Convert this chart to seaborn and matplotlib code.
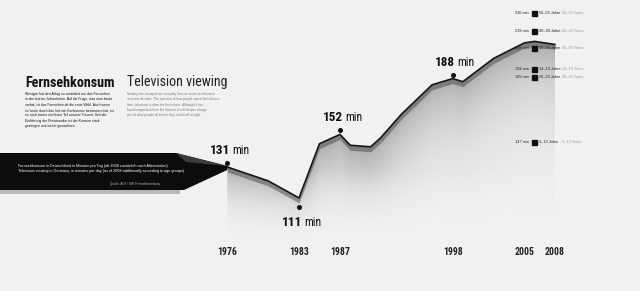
import numpy as np
import pandas as pd
import matplotlib
matplotlib.use("Agg")
import matplotlib.pyplot as plt
import matplotlib.transforms as mtransforms
from matplotlib import font_manager as fm
from matplotlib.patches import Polygon, Rectangle
import seaborn as sns

# ---------------- data ----------------
years = [1976, 1980, 1983, 1985, 1987, 1988, 1990, 1991, 1993, 1996, 1998, 1999, 2002, 2005, 2006, 2008]
minutes = [131, 122, 111, 146, 152, 145, 144, 150, 165, 184, 188, 186, 201, 211, 212, 210]

tick_years = [1976, 1983, 1987, 1998, 2005, 2008]
highlight_years = [1976, 1983, 1987, 1998]
highlight_values = [131, 111, 152, 188]
highlight_side = ["above", "below", "above", "above"]

age_values = [230, 219, 208, 194, 189, 147]
age_de = ["50–59 Jahre", "40–49 Jahre", "30–39 Jahre", "14–19 Jahre", "20–29 Jahre", "3–13 Jahre"]
age_en = ["50–59 Years", "40–49 Years", "30–39 Years", "14–19 Years", "20–29 Years", "3–13 Years"]

title_de = "Fernsehkonsum"
title_en = "Television viewing"
body_de = ("Wenigen hat den Alltag so verändert wie das Fernsehen\n"
           "in den letzten Jahrzehnten. Auf die Frage, was man heute\n"
           "vorhat, ist das Fernsehen oft die erste Wahl. Auch wenn\n"
           "es heute durch das Internet Konkurrenz bekommen hat, ist\n"
           "es noch immer ein fester Teil unserer Freizeit. Seit der\n"
           "Einführung der Privatsender ist der Konsum stark\n"
           "gestiegen und weiter gewachsen.")
body_en = ("Nothing has changed our everyday lives as much as television\n"
           "in recent decades. The question of how people spend their leisure\n"
           "time, television is often the first choice. Although it has\n"
           "faced competition from the Internet, it still shapes a large\n"
           "part of what people do before they switch off at night.")
band_de = "Fernsehkonsum in Deutschland in Minuten pro Tag (ab 2008 zusätzlich nach Altersstufen)"
band_en = "Television viewing in Germany, in minutes per day (as of 2008 additionally according to age groups)"
source = "Quelle: AGF / GfK Fernsehforschung"

df = pd.DataFrame({"year": years, "minutes": minutes})


def pick(cands):
    for c in cands:
        try:
            fm.findfont(fm.FontProperties(family=c), fallback_to_default=False)
            return c
        except Exception:
            pass
    return "DejaVu Sans"


# ---------------- style ----------------
sns.set_theme(style="white")
NARROW = pick(["Liberation Sans Narrow", "DejaVu Sans Condensed", "Roboto Condensed", "Roboto"])
plt.rcParams["font.family"] = ["Liberation Sans", "DejaVu Sans"]

W, H = 640, 291
BG = "#f1f1f1"
fig = plt.figure(figsize=(6.4, 2.91), dpi=100, facecolor=BG)
ax = fig.add_axes([0, 51 / H, 1, 240 / H])
ax.set_facecolor(BG)
X0, X1, Y0, Y1 = 1953.8, 2016.3, 83.9, 238.7
ax.set_xlim(X0, X1)
ax.set_ylim(Y0, Y1)
renderer = fig.canvas.get_renderer()


def fit_width(t, target_px):
    w = t.get_window_extent(renderer).width
    if w > 0:
        t.set_fontsize(t.get_fontsize() * target_px / w)


x = np.array(years, dtype=float)
y = np.array(minutes, dtype=float)

# soft shaded "wall" under the ribbon: gradient image clipped to the area below the line
gx = np.linspace(x[0], x[-1], 400)
gy = np.linspace(Y0, Y1, 300)
GX, GY = np.meshgrid(gx, gy)
L = np.interp(GX, x, y)
depth = np.clip(L - GY, 0, None)
alpha = 0.42 * np.exp(-depth / 32.0) * np.clip((GY - Y0) / 45.0, 0, 1) ** 1.3
rgba = np.zeros(GX.shape + (4,))
rgba[..., :3] = 0.30
rgba[..., 3] = alpha
im = ax.imshow(rgba, extent=(x[0], x[-1], Y0, Y1), origin="lower",
               aspect="auto", interpolation="bilinear", zorder=1)
clip_poly = Polygon(np.column_stack([np.r_[x, x[::-1]], np.r_[y, np.full_like(y, Y0)]]),
                    closed=True, transform=ax.transData, fc="none", ec="none")
ax.add_patch(clip_poly)
im.set_clip_path(clip_poly)
ax.set_xlim(X0, X1)
ax.set_ylim(Y0, Y1)

# front face of the ribbon
ax.fill_between(x, y - 3.2, y, color="#4a4a4a", alpha=0.5, lw=0, zorder=2)

sns.lineplot(data=df, x="year", y="minutes", ax=ax, color="#151515",
             lw=1.2, zorder=4, legend=False)

# highlighted values
for yr, v, side in zip(highlight_years, highlight_values, highlight_side):
    dy = 4 if side == "above" else -9
    tr = mtransforms.offset_copy(ax.transData, fig=fig, x=0, y=dy, units="dots")
    ax.plot([yr], [v], marker="o", ms=2.6, color="#111111", transform=tr, zorder=6)
    oy = (dy + (6 if side == "above" else -22)) * 0.72
    t1 = ax.annotate(str(v), (yr, v), xytext=(2.0, oy),
                     textcoords="offset points", ha="right", va="bottom",
                     fontsize=12, family=NARROW, fontweight="bold",
                     color="#111111", zorder=7)
    fit_width(t1, 20)
    ax.annotate("min", (yr, v), xytext=(3.5, oy),
                textcoords="offset points", ha="left", va="bottom",
                fontsize=8.5, family=NARROW, color="#111111", zorder=7)

# axes cosmetics
ax.set_xticks(tick_years)
ax.set_xticklabels([str(t) for t in tick_years], fontsize=7, fontweight="bold",
                   family=NARROW, color="#222222")
ax.tick_params(axis="x", length=0, pad=5)
ax.set_yticks([])
ax.set_xlabel("")
ax.set_ylabel("")
for s in ax.spines.values():
    s.set_visible(False)


# left black banner (axes fraction), tip joins the first data point
def af(px, py):
    return (px / W, 1 - py / 240)


tip = ax.transAxes.inverted().transform(ax.transData.transform((years[0], minutes[0])))
ax.add_patch(Rectangle(af(0, 194), 180 / W, 7 / 240, transform=ax.transAxes,
                       color="#b8b8b8", lw=0, zorder=5))
ax.add_patch(Polygon([af(0, 153), af(176, 153), (tip[0], tip[1] + 1 / 240),
                      (tip[0], tip[1] - 3 / 240), af(184, 190), af(0, 190)], closed=True,
                     transform=ax.transAxes, color="#0c0c0c", lw=0, zorder=5))
ax.add_patch(Polygon([af(176, 153), (tip[0], tip[1] + 1 / 240), af(186, 162)], closed=True,
                     transform=ax.transAxes, color="#3c3c3c", lw=0, zorder=5))
ax.text(*af(18, 166), band_de, transform=ax.transAxes, fontsize=2.7,
        color="white", va="center", ha="left", zorder=6)
ax.text(*af(18, 171), band_en, transform=ax.transAxes, fontsize=2.7,
        color="white", va="center", ha="left", zorder=6)
ax.text(*af(160, 184), source, transform=ax.transAxes, fontsize=2.2,
        color="#bbbbbb", va="center", ha="right", zorder=6)

# titles & text
t = fig.text(25 / W, 1 - 83 / H, title_de, fontsize=10.5, fontweight="bold",
             family=NARROW, color="#111111", va="center", ha="left")
fit_width(t, 90)
t = fig.text(127 / W, 1 - 82 / H, title_en, fontsize=11, family=NARROW,
             color="#222222", va="center", ha="left")
fit_width(t, 101)
t = fig.text(25 / W, 1 - 92 / H, body_de, fontsize=2.7, color="#111111",
             va="top", ha="left", linespacing=1.45)
fit_width(t, 87)
t = fig.text(127 / W, 1 - 92 / H, body_en, fontsize=2.7, color="#777777",
             va="top", ha="left", linespacing=1.45)
fit_width(t, 92)

# age-group legend on the right (x in axes fraction, y in data)
bt = mtransforms.blended_transform_factory(ax.transAxes, ax.transData)
for v, de, en in zip(age_values, age_de, age_en):
    ax.text(529 / W, v, f"{v} min", transform=bt, fontsize=2.8, color="#222222",
            ha="right", va="center", zorder=8)
    ax.plot([534 / W], [v], marker="s", ms=3.6, color="#111111", transform=bt,
            zorder=8, clip_on=False)
    ax.text(539 / W, v, de, transform=bt, fontsize=2.8, color="#222222",
            ha="left", va="center", zorder=8)
    ax.text(562 / W, v, en, transform=bt, fontsize=2.8, color="#999999",
            ha="left", va="center", zorder=8)

fig.savefig("out.png", dpi=100, facecolor=fig.get_facecolor())
